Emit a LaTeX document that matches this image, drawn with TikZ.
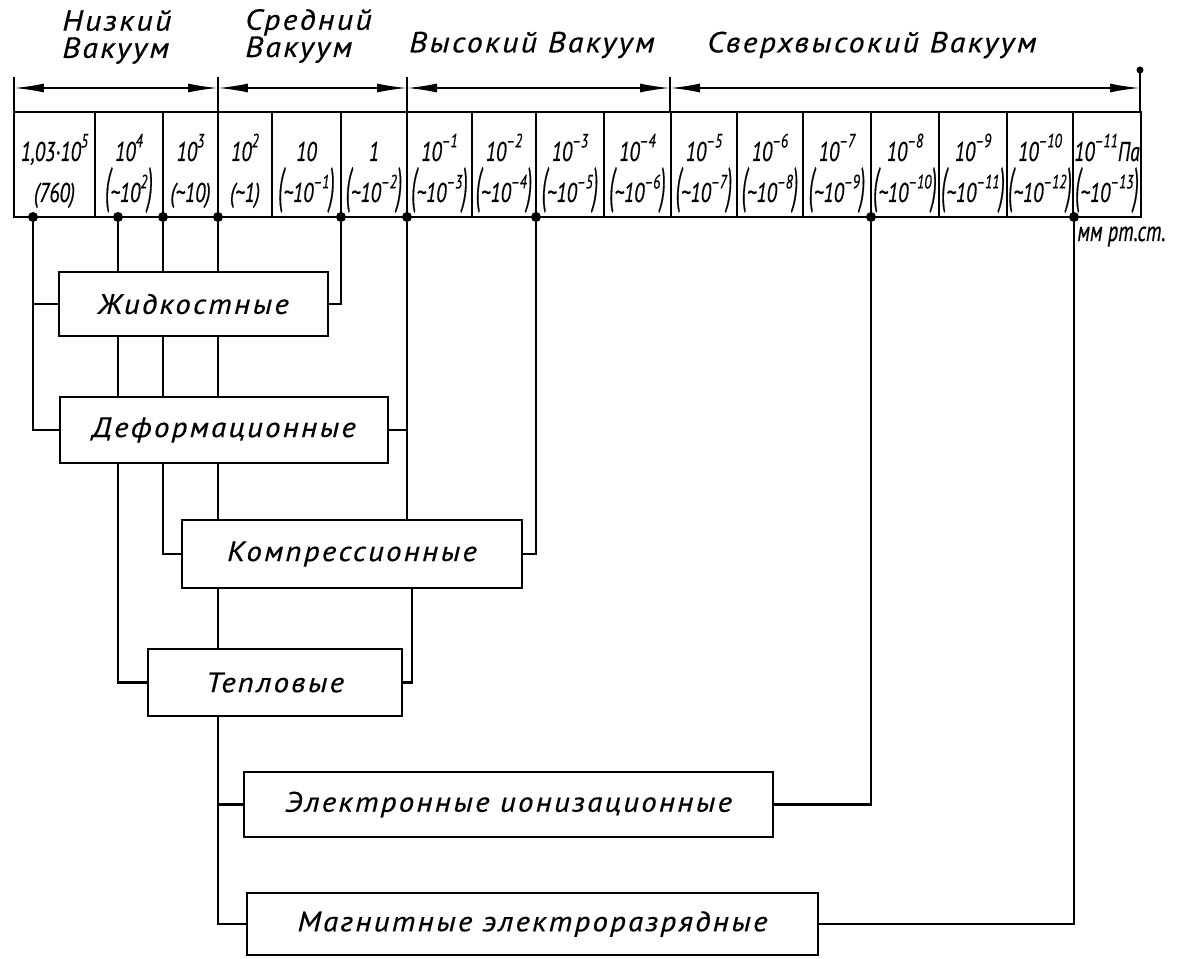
\documentclass[tikz,border=0pt]{standalone}
\usepackage{fontspec}
\usepackage{graphicx}
\setmainfont{PT Sans}
\newfontfamily\gost{PT Sans}[FakeStretch=1.1,LetterSpace=8,FakeBold=0.5]
\newfontfamily\gostnum{PT Sans}[FakeStretch=0.72,FakeBold=0.5]
\usetikzlibrary{arrows.meta}
\newcommand{\up}[1]{\raisebox{0.5em}{\fontsize{11}{11}\selectfont #1}}
\newcommand{\lpar}{\scalebox{1}[1.8]{(}}
\newcommand{\rpar}{\scalebox{1}[1.8]{)}}
\newcommand{\mmv}[1]{\lpar\textasciitilde10\up{#1}\rpar}

\begin{document}
\begin{tikzpicture}[x=0.02cm,y=-0.02cm,
  box/.style={draw,line width=1.2pt,inner sep=0pt,font=\gost\fontsize{16}{18}\selectfont\itshape},
  link/.style={line width=1.6pt},
  rng/.style={inner sep=0pt,align=left,font=\gost\fontsize{16.5}{15.5}\selectfont\itshape},
  val/.style={inner sep=0pt,anchor=base,font=\gostnum\fontsize{15.5}{16}\selectfont\itshape},
  dot/.style={circle,fill,inner sep=0pt,minimum size=0.2cm},
  dim/.style={line width=1pt,{Latex[length=6mm,width=1.8mm]}-{Latex[length=6mm,width=1.8mm]}}]
\useasboundingbox (0,0) rectangle (1196,959);

% ranges of vacuum
\node[rng,anchor=west] (nizk) at (62,37) {Низкий\\Вакуум};
\node[rng,anchor=west] (sred) at (245,36) {Средний\\Вакуум};
\node[rng] (vys) at (532,45) {Высокий Вакуум};
\node[rng] (sverh) at (872,45) {Сверхвысокий Вакуум};
\coordinate (r0) at (14,88);
\coordinate (r1) at (218,88);
\coordinate (r2) at (407,88);
\coordinate (r3) at (670,88);
\coordinate (r4) at (1140,88);
\draw[dim] (r0) -- (r1);
\draw[dim] (r1) -- (r2);
\draw[dim] (r2) -- (r3);
\draw[dim] (r3) -- (r4);
\draw[thick] (14,77) -- (14,112) (218,77) -- (218,112) (407,77) -- (407,112) (670,77) -- (670,112) (1140,70) -- (1140,112);
\fill (1140,70) circle[radius=2pt];

% scale of pressures
\draw[line width=1.2pt] (14,112) rectangle (1141,217);
\draw[line width=0.9pt] (95,112) -- (95,217) (163,112) -- (163,217) (218,112) -- (218,217) (272,112) -- (272,217)
  (341,112) -- (341,217) (407,112) -- (407,217) (472,112) -- (472,217) (536,112) -- (536,217)
  (604,112) -- (604,217) (671,112) -- (671,217) (737,112) -- (737,217) (803,112) -- (803,217)
  (871,112) -- (871,217) (939,112) -- (939,217) (1007,112) -- (1007,217) (1073,112) -- (1073,217);
\node[val] (p1) at (54.5,161) {1,03·10\up{5}}; \node[val] (m1) at (54.5,202) {(760)};
\node[val] (p2) at (129,161) {10\up{4}}; \node[val] (m2) at (129,202) {\mmv{2}};
\node[val] (p3) at (190.5,161) {10\up{3}}; \node[val] (m3) at (190.5,202) {(\textasciitilde10)};
\node[val] (p4) at (245,161) {10\up{2}}; \node[val] (m4) at (245,202) {(\textasciitilde1)};
\node[val] (p5) at (306.5,161) {10}; \node[val] (m5) at (306.5,202) {\mmv{–1}};
\node[val] (p6) at (374,161) {1}; \node[val] (m6) at (374,202) {\mmv{–2}};
\node[val] (p7) at (439.5,161) {10\up{–1}}; \node[val] (m7) at (439.5,202) {\mmv{–3}};
\node[val] (p8) at (504,161) {10\up{–2}}; \node[val] (m8) at (504,202) {\mmv{–4}};
\node[val] (p9) at (570,161) {10\up{–3}}; \node[val] (m9) at (570,202) {\mmv{–5}};
\node[val] (p10) at (637.5,161) {10\up{–4}}; \node[val] (m10) at (637.5,202) {\mmv{–6}};
\node[val] (p11) at (704,161) {10\up{–5}}; \node[val] (m11) at (704,202) {\mmv{–7}};
\node[val] (p12) at (770,161) {10\up{–6}}; \node[val] (m12) at (770,202) {\mmv{–8}};
\node[val] (p13) at (837,161) {10\up{–7}}; \node[val] (m13) at (837,202) {\mmv{–9}};
\node[val] (p14) at (905,161) {10\up{–8}}; \node[val] (m14) at (905,202) {\mmv{–10}};
\node[val] (p15) at (973,161) {10\up{–9}}; \node[val] (m15) at (973,202) {\mmv{–11}};
\node[val] (p16) at (1040,161) {10\up{–10}}; \node[val] (m16) at (1040,202) {\mmv{–12}};
\node[val] (p17) at (1107,161) {10\up{–11}Па}; \node[val] (m17) at (1107,202) {\mmv{–13}};
\node[val,anchor=base west] (unit) at (1077,241) {\fontsize{16}{16}\selectfont мм рт.ст.};

% gauges
\node[box,minimum width=5.38cm,minimum height=1.28cm] (zhid) at (193.5,304) {Жидкостные};
\node[box,minimum width=6.56cm,minimum height=1.32cm] (def) at (224,430) {Деформационные};
\node[box,minimum width=6.8cm,minimum height=1.36cm] (komp) at (352,554) {Компрессионные};
\node[box,minimum width=5.08cm,minimum height=1.34cm] (tep) at (275,682.5) {Тепловые};
\node[box,minimum width=10.58cm,minimum height=1.3cm] (el) at (508.5,804.5) {Электронные ионизационные};
\node[box,minimum width=11.42cm,minimum height=1.24cm] (mag) at (532.5,924) {Магнитные электроразрядные};

\node[dot] (d1) at (33,217) {};
\node[dot] (d2) at (118,217) {};
\node[dot] (d3) at (163,217) {};
\node[dot] (d4) at (218,217) {};
\node[dot] (d5) at (341,217) {};
\node[dot] (d6) at (407,217) {};
\node[dot] (d7) at (536,217) {};
\node[dot] (d8) at (871,217) {};
\node[dot] (d9) at (1074,217) {};

\draw[link] (d1) |- (zhid.west);
\draw[link] (d1) |- (def.west);
\draw[link] (d2) -- (d2 |- zhid.north) (d2 |- zhid.south) -- (d2 |- def.north) (d2 |- def.south) |- (tep.west);
\draw[link] (d3) -- (d3 |- zhid.north) (d3 |- zhid.south) -- (d3 |- def.north) (d3 |- def.south) |- (komp.west);
\draw[link] (d4) -- (d4 |- zhid.north) (d4 |- zhid.south) -- (d4 |- def.north) (d4 |- def.south) -- (d4 |- komp.north)
  (d4 |- komp.south) -- (d4 |- tep.north) (d4 |- tep.south) |- (el.west);
\draw[link] (d4 |- tep.south) |- (mag.west);
\draw[link] (d5) |- (zhid.east);
\draw[link] (d6) -- (d6 |- komp.north) (def.east) -- (def.east -| d6);
\draw[link] ([xshift=1mm]komp.south -| d6) |- (tep.east);
\draw[link] (d7) |- (komp.east);
\draw[link] (d8) |- (el.east);
\draw[link] (d9) |- (mag.east);
\end{tikzpicture}
\end{document}
